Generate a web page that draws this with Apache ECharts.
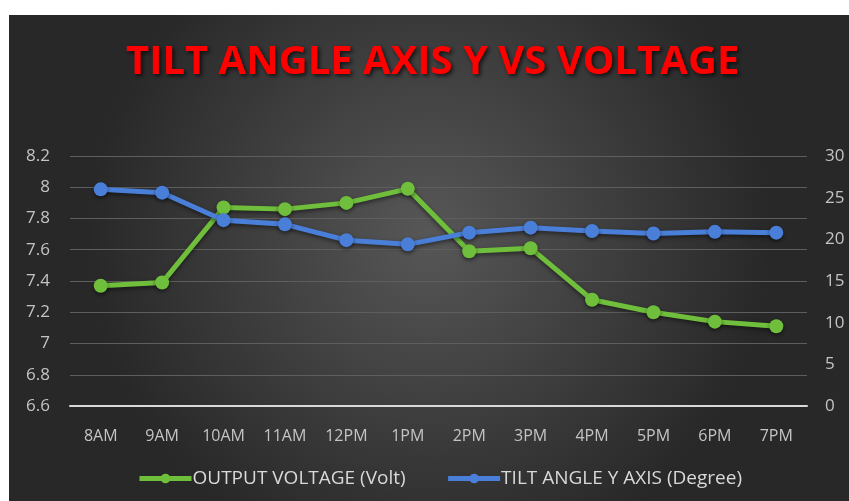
<!DOCTYPE html>
<html>
<head>
<meta charset="utf-8">
<script src="https://cdn.jsdelivr.net/npm/echarts@6/dist/echarts.min.js"></script>
<style>
  html, body { margin: 0; padding: 0; background: #ffffff; }
  #chart { width: 849px; height: 501px; }
</style>
</head>
<body>
<div id="chart"></div>
<script>
// data
const hours = ["8AM", "9AM", "10AM", "11AM", "12PM", "1PM", "2PM", "3PM", "4PM", "5PM", "6PM", "7PM"]
const voltage = [7.37, 7.39, 7.87, 7.86, 7.9, 7.99, 7.59, 7.61, 7.28, 7.2, 7.14, 7.11]
const tiltAngle = [26.0, 25.6, 22.3, 21.8, 19.9, 19.4, 20.8, 21.4, 21.0, 20.7, 20.9, 20.8]

const myChart = echarts.init(document.getElementById("chart"))

const labelColor = "#c4c4c4"

const option = {
  animation: false,
  graphic: [
    {
      type: "rect",
      z: -10,
      silent: true,
      shape: { x: 9, y: 15, width: 840, height: 486 },
      style: {
        fill: new echarts.graphic.RadialGradient(0.5, 0.45, 0.7, [
          { offset: 0, color: "#575757" },
          { offset: 1, color: "#282828" },
        ]),
      },
    },
  ],
  title: {
    text: "TILT ANGLE AXIS Y VS VOLTAGE",
    left: 121,
    top: 38,
    textStyle: {
      color: "#ff0000",
      fontFamily: "Open Sans",
      fontWeight: "bold",
      fontSize: 40,
      textShadowColor: "rgba(0,0,0,0.7)",
      textShadowBlur: 4,
      textShadowOffsetX: 2,
      textShadowOffsetY: 2,
    },
  },
  legend: {
    top: 469,
    left: 137,
    padding: 0,
    itemWidth: 52,
    itemHeight: 12,
    itemGap: 40,
    lineStyle: { width: 5 },
    textStyle: { color: "#d9d9d9", fontFamily: "Open Sans", fontSize: 19, padding: [0, 0, 0, -4] },
    data: ["OUTPUT VOLTAGE (Volt)", "TILT ANGLE Y AXIS (Degree)"],
  },
  grid: {
    left: 70,
    right: 42,
    top: 156,
    bottom: 95,
  },
  xAxis: {
    type: "category",
    data: hours,
    axisLine: { lineStyle: { color: "#d9d9d9", width: 2 } },
    axisTick: { show: false },
    axisLabel: { color: labelColor, fontFamily: "Open Sans", fontSize: 16, margin: 22 },
  },
  yAxis: [
    {
      type: "value",
      min: 6.6,
      max: 8.2,
      interval: 0.2,
      axisLine: { show: false },
      axisTick: { show: false },
      axisLabel: {
        color: labelColor,
        fontFamily: "Open Sans",
        fontSize: 17,
        margin: 20,
        formatter: (v) => String(Math.round(v * 10) / 10),
      },
      splitLine: { lineStyle: { color: "#5e5e5e", width: 1 } },
    },
    {
      type: "value",
      min: 0,
      max: 30,
      interval: 5,
      axisLine: { show: false },
      axisTick: { show: false },
      axisLabel: { color: labelColor, fontFamily: "Open Sans", fontSize: 17, margin: 18 },
      splitLine: { show: false },
    },
  ],
  series: [
    {
      name: "OUTPUT VOLTAGE (Volt)",
      type: "line",
      yAxisIndex: 0,
      data: voltage,
      symbol: "circle",
      symbolSize: 14,
      itemStyle: { color: "#6fbf3c", shadowColor: "rgba(0,0,0,0.5)", shadowBlur: 4, shadowOffsetY: 2 },
      lineStyle: { color: "#6fbf3c", width: 5, shadowColor: "rgba(0,0,0,0.5)", shadowBlur: 4, shadowOffsetY: 2 },
      z: 2,
    },
    {
      name: "TILT ANGLE Y AXIS (Degree)",
      type: "line",
      yAxisIndex: 1,
      data: tiltAngle,
      symbol: "circle",
      symbolSize: 14,
      itemStyle: { color: "#4a7fd9", shadowColor: "rgba(0,0,0,0.5)", shadowBlur: 4, shadowOffsetY: 2 },
      lineStyle: { color: "#4a7fd9", width: 5, shadowColor: "rgba(0,0,0,0.5)", shadowBlur: 4, shadowOffsetY: 2 },
      z: 3,
    },
  ],
}

myChart.setOption(option)
</script>
</body>
</html>
